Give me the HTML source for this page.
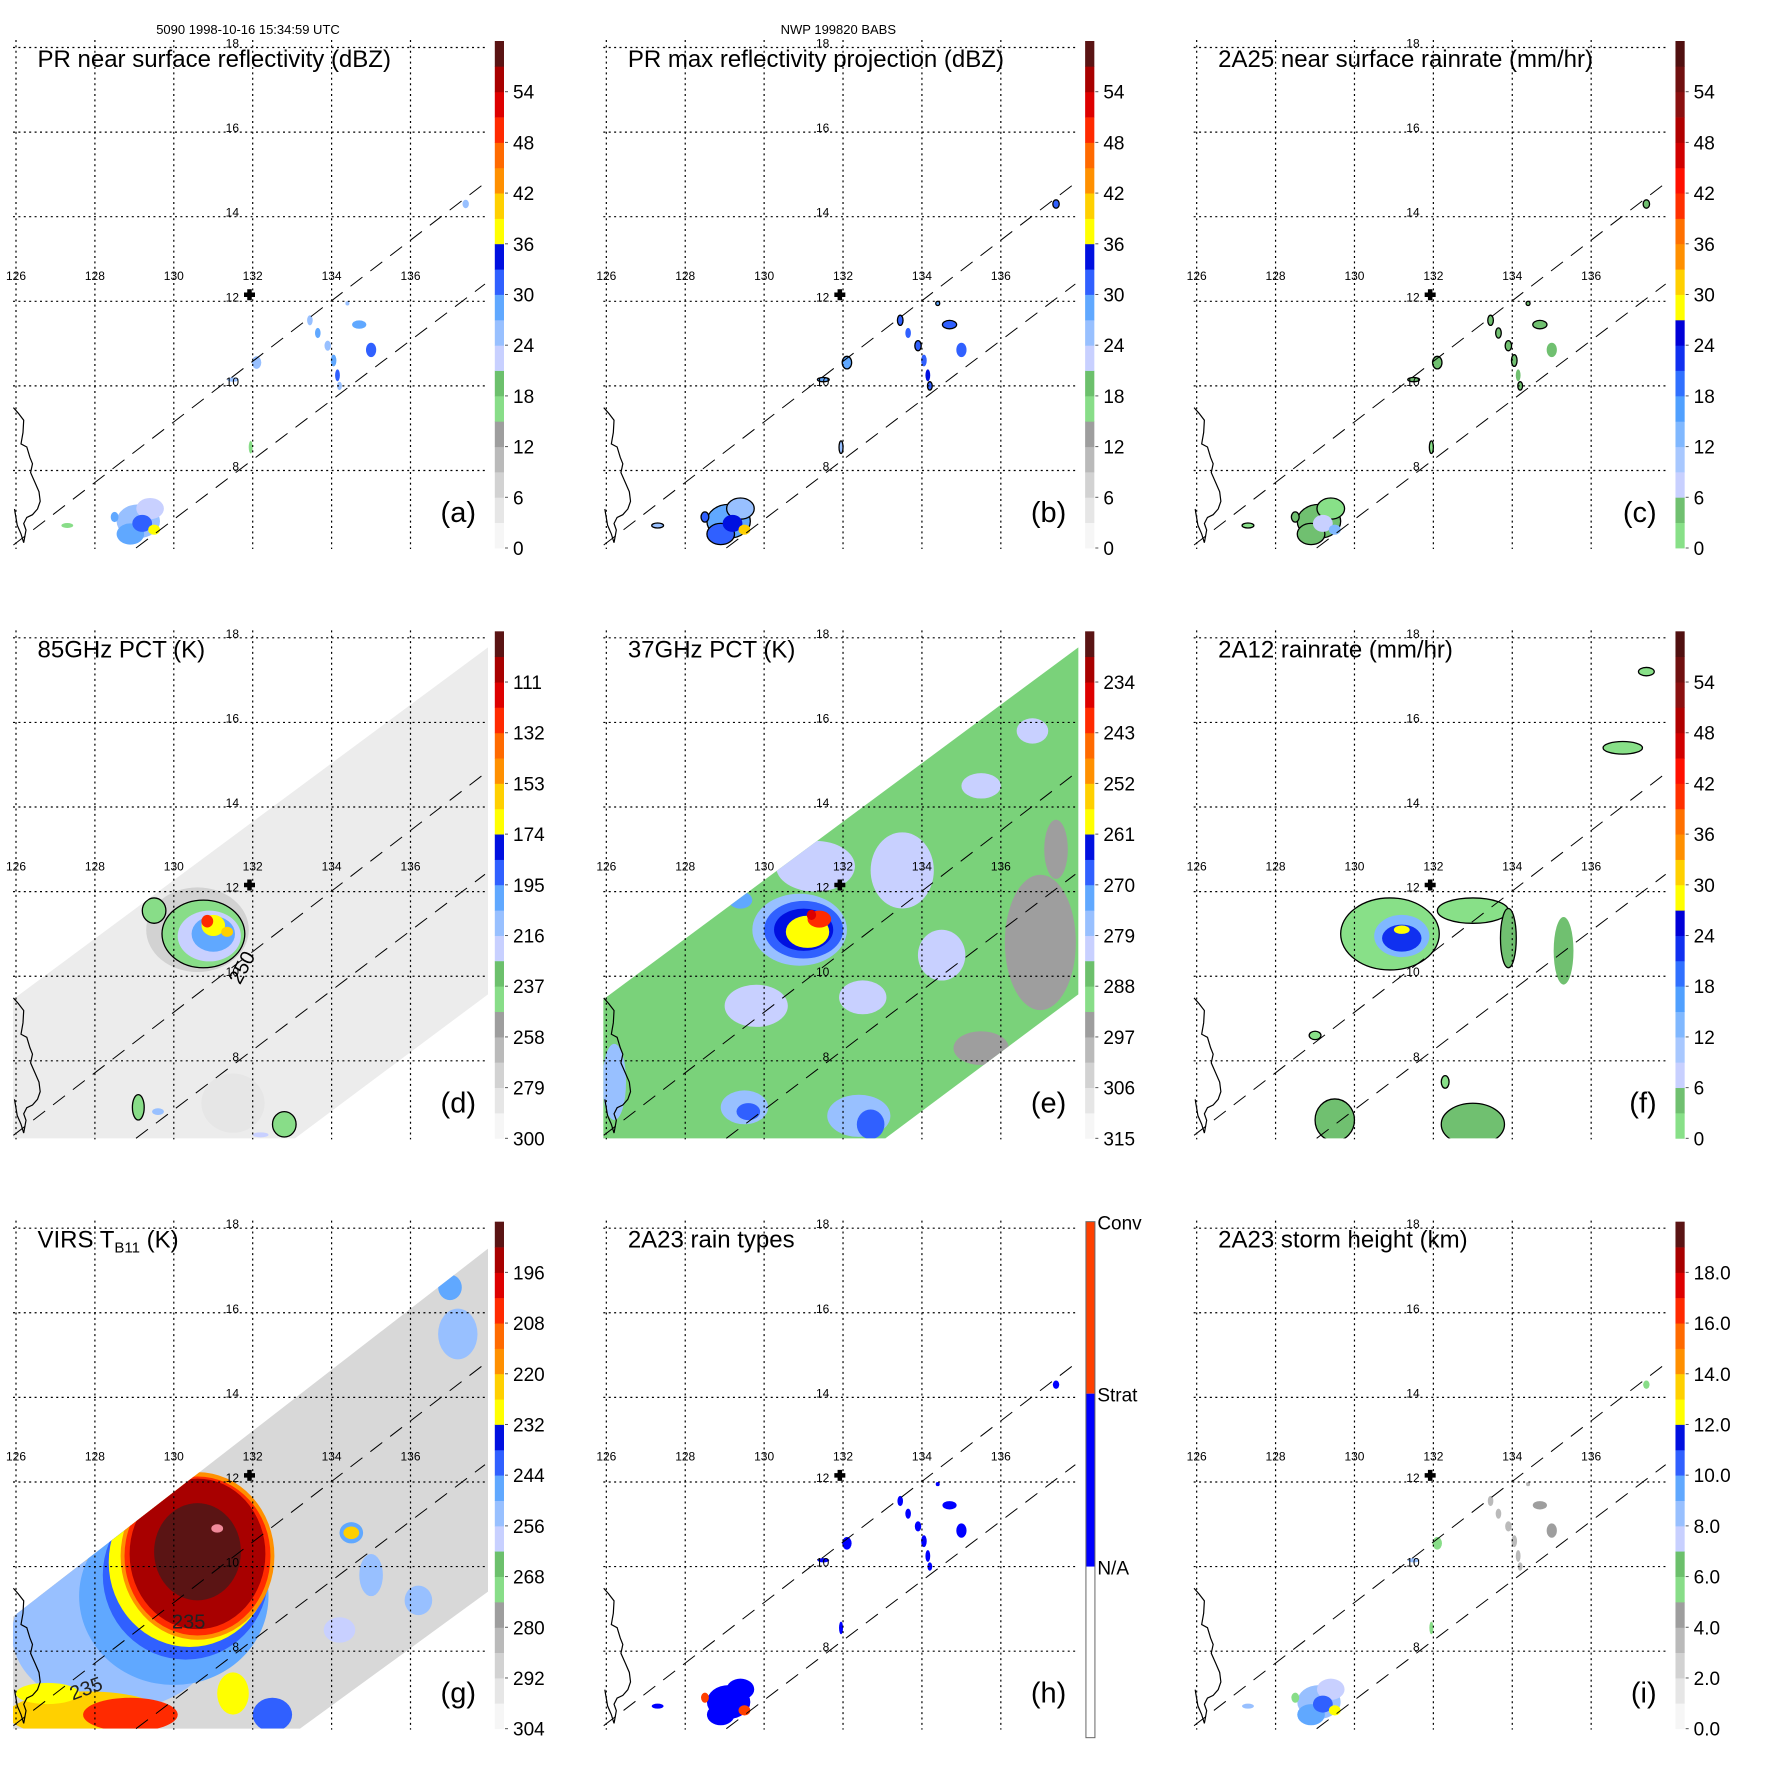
<!DOCTYPE html>
<html>
<head>
<meta charset="utf-8">
<style>
  html,body{margin:0;padding:0;background:#fff;}
  svg{display:block;font-family:"Liberation Sans",Arial,sans-serif;}
</style>
</head>
<body>
<svg id="fig" xmlns="http://www.w3.org/2000/svg" width="1771" height="1771" viewBox="0 0 1771 1771">
  <rect x="0" y="0" width="1771" height="1771" fill="#ffffff"/>
</svg>
<script>
// ---------------- DATA ----------------
const prLon = [129.1,129.4,128.9,129.2,129.5,128.5,127.3,133.45,133.65,133.9,134.05,134.15,134.2,134.7,135.0,132.1,131.5,134.4,137.4,131.95];
const prLat = [6.8,7.1,6.5,6.75,6.6,6.9,6.7,11.55,11.25,10.95,10.6,10.25,10.0,11.45,10.85,10.55,10.15,11.95,14.3,8.55];
const prRx  = [0.55,0.35,0.35,0.25,0.15,0.1,0.15,0.07,0.07,0.08,0.07,0.06,0.06,0.18,0.13,0.12,0.15,0.05,0.08,0.05];
const prRy  = [0.4,0.25,0.25,0.2,0.12,0.12,0.06,0.12,0.12,0.12,0.14,0.14,0.1,0.1,0.17,0.15,0.05,0.05,0.1,0.15];
const aVal = [24,22,27,32,38,28,17,26,28,26,28,30,26,28,30,24,25,26,26,17];
const bVal = [27,25,30,35,40,30,26,30,32,30,32,33,30,30,31,28,27,28,30,26];
const cVal = [3,2,4,8,12,4,2,3,4,3,4,5,3,4,5,3,3,3,3,2];
const hVal = [1,1,1,1,2,2,1,1,1,1,1,1,1,1,1,1,1,1,1,1];
const iVal = [8,7,9,10.5,12,5,8,3,3,3,3,3,3,4,4,5,8,3,5,5];

const dLon = [130.6,131.5,130.75,129.5,130.9,131.0,131.0,130.85,131.35,129.1,129.6,132.8,132.2];
const dLat = [11.1,7.0,11.0,11.55,10.95,11.0,11.2,11.3,11.05,6.9,6.8,6.5,6.25];
const dRx  = [1.3,0.8,1.05,0.3,0.8,0.55,0.3,0.15,0.15,0.15,0.15,0.3,0.2];
const dRy  = [1.0,0.7,0.8,0.3,0.6,0.42,0.25,0.15,0.12,0.3,0.08,0.3,0.06];
const dVal = [272,286,240,240,222,205,165,125,160,240,215,240,220];

const eLon = [131.3,133.5,129.8,136.8,135.5,137.0,135.5,137.4,126.2,129.5,129.6,132.4,132.7,129.4,130.9,131.0,131.0,131.1,131.4,131.2,134.5,132.5];
const eLat = [12.6,12.5,9.3,15.8,14.5,10.8,8.3,13.0,7.5,6.9,6.8,6.7,6.5,11.8,11.1,11.1,11.1,11.05,11.35,11.45,10.5,9.5];
const eRx  = [1.0,0.8,0.8,0.4,0.5,0.9,0.7,0.3,0.3,0.6,0.3,0.8,0.35,0.3,1.2,1.0,0.75,0.55,0.3,0.12,0.6,0.6];
const eRy  = [0.6,0.9,0.5,0.3,0.3,1.6,0.4,0.7,0.9,0.4,0.2,0.5,0.35,0.2,0.85,0.68,0.5,0.38,0.2,0.12,0.6,0.4];
const eVal = [282,282,282,282,282,295,295,295,276,278,268,278,266,272,278,268,262,258,243,236,282,282];

const fLon = [130.9,133.0,133.9,135.3,129.5,133.0,132.3,129.0,136.8,137.4,131.2,131.2,131.2];
const fLat = [11.0,11.55,10.9,10.6,6.6,6.5,7.5,8.6,15.4,17.2,10.95,10.9,11.1];
const fRx  = [1.25,0.9,0.2,0.25,0.5,0.8,0.1,0.15,0.5,0.2,0.7,0.5,0.2];
const fRy  = [0.85,0.3,0.7,0.8,0.5,0.5,0.15,0.1,0.15,0.1,0.5,0.32,0.1];
const fVal = [2,2,3,5,3,3,2,2,2,2,12,22,29];

const gLon = [127.5,128.5,130.0,130.3,130.4,130.6,130.6,130.6,130.6,131.1,127.8,128.9,126.8,131.5,132.5,134.5,134.5,135.0,136.2,137.2,134.2,137.0];
const gLat = [9.5,8.4,9.3,9.8,10.1,10.25,10.25,10.3,10.35,10.9,6.5,6.5,7.0,7.0,6.5,10.8,10.8,9.8,9.2,15.5,8.5,16.6];
const gRx  = [1.0,2.6,2.4,2.1,2.05,1.95,1.85,1.72,1.1,0.15,2.0,1.2,0.8,0.4,0.5,0.3,0.2,0.3,0.35,0.5,0.4,0.3];
const gRy  = [0.8,1.8,2.1,2.0,2.0,1.98,1.88,1.78,1.15,0.1,0.55,0.4,0.25,0.5,0.4,0.25,0.15,0.5,0.35,0.6,0.3,0.3];
const gVal = [285,254,246,240,228,218,206,196,190,170,222,205,228,230,240,250,225,255,255,255,260,250];

const aTicks = ['54','48','42','36','30','24','18','12','6','0'];
const cTicks = ['54','48','42','36','30','24','18','12','6','0'];
const dTicks = ['111','132','153','174','195','216','237','258','279','300'];
const eTicks = ['234','243','252','261','270','279','288','297','306','315'];
const gTicks = ['196','208','220','232','244','256','268','280','292','304'];
const iTicks = ['18.0','16.0','14.0','12.0','10.0','8.0','6.0','4.0','2.0','0.0'];
const hCats  = ['Conv','Strat','N/A'];
const lonTicks = [126,128,130,132,134,136];
const latTicks = [18,16,14,12,10,8];

// ---------------- STYLE / AXES ----------------
const reflPal = ['#f6f6f6','#e6e6e6','#d2d2d2','#bababa','#9e9e9e','#88dd88','#6cc06c','#c8d0ff','#98c0ff','#60a8ff','#3060ff','#0010e0','#ffff00','#ffd000','#ff9000','#ff6a00','#ff2a00','#dd0000','#a80000','#5a1414'];
const rainPal = ['#88e088','#70c070','#c8d0ff','#a8c8ff','#80b8ff','#50a0ff','#3070ff','#1030f0','#0000d8','#ffff00','#ffd000','#ff9000','#ff7000','#ff3000','#ff1000','#d00000','#b00000','#8a1010','#701010','#501010'];
function palColor(pal, s){
  if (s > 60) return '#f08a9a';
  let i = Math.floor(s/3); if (i<0) i=0; if (i>19) i=19;
  return pal[i];
}
const xOf = lon => 16 + (lon-126)*39.45;
const yOf = lat => 47.5 + (18-lat)*42.3;
const cbY = s => 548 - s*8.45;
const P = 1771/3;
const NS = 'http://www.w3.org/2000/svg';
const svg = document.getElementById('fig');
function mk(tag, attrs, parent){
  const el = document.createElementNS(NS, tag);
  for (const k in attrs) el.setAttribute(k, attrs[k]);
  parent.appendChild(el);
  return el;
}
const coastZ = [[35,1065],[48,1080],[62,1098],[60,1130],[55,1160],[70,1168],[78,1195],[85,1212],[80,1235],[92,1262],[102,1285],[105,1310],[98,1330],[85,1345],[70,1352],[62,1368],[68,1385],[62,1418],[55,1395],[45,1372],[38,1330]];
const tmiSwath = '13,409 488,57 488,404 295,548 13,548';
const virsSwath = '13,436 488,68 488,411 300,548 13,548';

const panels = [
 {id:'a',col:0,row:0,title:'PR near surface reflectivity (dBZ)',pal:reflPal,ticks:aTicks,lons:prLon,lats:prLat,rxs:prRx,rys:prRy,vals:aVal,sc:v=>v,outline:null,header:'5090 1998-10-16 15:34:59 UTC'},
 {id:'b',col:1,row:0,title:'PR max reflectivity projection (dBZ)',pal:reflPal,ticks:aTicks,lons:prLon,lats:prLat,rxs:prRx,rys:prRy,vals:bVal,sc:v=>v,outline:v=>v<=30,header:'NWP 199820 BABS'},
 {id:'c',col:2,row:0,title:'2A25 near surface rainrate (mm/hr)',pal:rainPal,ticks:cTicks,lons:prLon,lats:prLat,rxs:prRx,rys:prRy,vals:cVal,sc:v=>v,outline:v=>v<=4},
 {id:'d',col:0,row:1,title:'85GHz PCT (K)',pal:reflPal,ticks:dTicks,lons:dLon,lats:dLat,rxs:dRx,rys:dRy,vals:dVal,sc:v=>(300-v)/3.5,outline:v=>v>=235&&v<=245,swath:tmiSwath,swathFill:'#ececec'},
 {id:'e',col:1,row:1,title:'37GHz PCT (K)',pal:reflPal,ticks:eTicks,lons:eLon,lats:eLat,rxs:eRx,rys:eRy,vals:eVal,sc:v=>(315-v)/1.5,outline:null,swath:tmiSwath,swathFill:'#7ad27a'},
 {id:'f',col:2,row:1,title:'2A12 rainrate (mm/hr)',pal:rainPal,ticks:cTicks,lons:fLon,lats:fLat,rxs:fRx,rys:fRy,vals:fVal,sc:v=>v,outline:v=>v<=3},
 {id:'g',col:0,row:2,title:'VIRS',pal:reflPal,ticks:gTicks,lons:gLon,lats:gLat,rxs:gRx,rys:gRy,vals:gVal,sc:v=>(304-v)/2,outline:null,swath:virsSwath,swathFill:'#d8d8d8'},
 {id:'h',col:1,row:2,title:'2A23 rain types',pal:null,ticks:null,lons:prLon,lats:prLat,rxs:prRx,rys:prRy,vals:hVal,sc:v=>v,outline:null},
 {id:'i',col:2,row:2,title:'2A23 storm height (km)',pal:reflPal,ticks:iTicks,lons:prLon,lats:prLat,rxs:prRx,rys:prRy,vals:iVal,sc:v=>v*3,outline:null}
];

const defs = mk('defs', {}, svg);
panels.forEach(p => {
  const cp = mk('clipPath', {id:'clip-'+p.id}, defs);
  if (p.swath) mk('polygon', {points:p.swath}, cp);
  else mk('rect', {x:13,y:40,width:475,height:508}, cp);
});

panels.forEach(p => {
  const g = mk('g', {transform:'translate('+(p.col*P).toFixed(2)+','+(p.row*P).toFixed(2)+')'}, svg);
  
  

  if (p.swath){
    const sw = mk('polygon', {points:p.swath, fill:p.swathFill}, g);
    
    
  }
  const dg = mk('g', {'clip-path':'url(#clip-'+p.id+')'}, g);
  
  
  for (let k=0;k<p.vals.length;k++){
    let fill;
    if (p.id==='h') fill = p.vals[k]===2 ? '#ff4000' : '#0000ff';
    else fill = palColor(p.pal, p.sc(p.vals[k]));
    const at = {cx:xOf(p.lons[k]).toFixed(1), cy:yOf(p.lats[k]).toFixed(1), rx:(p.rxs[k]*39.45).toFixed(1), ry:(p.rys[k]*42.3).toFixed(1), fill:fill};
    if (p.outline && p.outline(p.vals[k])){ at.stroke='#000'; at['stroke-width']='1.3'; }
    const el = mk('ellipse', at, dg);
    
    
  }

  const gg = mk('g', {stroke:'#000','stroke-width':'1.2','stroke-dasharray':'2 3.4',fill:'none'}, g);
  
  
  lonTicks.forEach(lon => {
    const l = mk('line', {x1:xOf(lon), y1:40, x2:xOf(lon), y2:549}, gg);
    
    
  });
  latTicks.forEach(lat => {
    const l = mk('line', {x1:13, y1:yOf(lat), x2:488, y2:yOf(lat)}, gg);
    
    
  });
  const dl = mk('g', {stroke:'#000','stroke-width':'1','stroke-dasharray':'15 10',fill:'none'}, g);
  
  
  const l1 = mk('line', {x1:13.4,y1:545,x2:485,y2:183}, dl);
  
  
  const l2 = mk('line', {x1:136,y1:548,x2:485,y2:284}, dl);
  
  
  const cpts = coastZ.map(q => (q[0]*0.3827).toFixed(1)+','+(q[1]*0.3827).toFixed(1)).join(' ');
  const co = mk('polyline', {points:cpts, fill:'none', stroke:'#000','stroke-width':'1.2'}, g);
  
  

  lonTicks.forEach(lon => {
    const t = mk('text', {x:xOf(lon), y:280, 'font-size':'12', 'text-anchor':'middle', fill:'#000'}, g);
    t.textContent = String(lon);
    
    
  });
  latTicks.forEach(lat => {
    const t = mk('text', {x:239, y:yOf(lat), 'font-size':'12', 'text-anchor':'end', fill:'#000'}, g);
    t.textContent = String(lat);
    
    
  });
  const pl = mk('path', {d:'M244,294.7 h11 M249.5,289.2 v11', stroke:'#000','stroke-width':'4.5',fill:'none'}, g);
  
  

  if (p.id==='d'){
    const t = mk('text', {x:0,y:0,'font-size':'20',fill:'#000',transform:'translate(240,395) rotate(-62)'}, g);
    t.textContent = '250';
    
    
  }
  if (p.id==='g'){
    const t = mk('text', {x:172,y:448,'font-size':'20',fill:'#222'}, g);
    t.textContent = '235';
    
    
    const t2 = mk('text', {x:70,y:515,'font-size':'20',fill:'#222',transform:'rotate(-20 85 510)'}, g);
    t2.textContent = '235';
    
    
  }

  if (p.header){
    const t = mk('text', {x:248, y:34, 'font-size':'13', 'text-anchor':'middle', fill:'#000'}, g);
    t.textContent = p.header;
    
    
  }
  const tt = mk('text', {x:37.5, y:67, 'font-size':'24', fill:'#000'}, g);
  
  
  if (p.id==='g'){
    const s1 = mk('tspan', {}, tt); s1.textContent = 'VIRS T';
    const s2 = mk('tspan', {'font-size':'15', dy:'5'}, tt); s2.textContent = 'B11';
    const s3 = mk('tspan', {dy:'-5'}, tt); s3.textContent = ' (K)';
  } else {
    tt.textContent = p.title;
  }
  const pt = mk('text', {x:476, y:522, 'font-size':'29', 'text-anchor':'end', fill:'#000'}, g);
  pt.textContent = '('+p.id+')';
  
  

  const cb = mk('g', {}, g);
  
  
  if (p.id==='h'){
    const segs = [['#ff4000',41,213],['#0000ff',213,386],['#ffffff',386,557]];
    segs.forEach((s,k) => {
      const r = mk('rect', {x:495.6, y:s[1], width:9, height:s[2]-s[1], fill:s[0]}, cb);
      
      
    });
    const fr = mk('rect', {x:495.6, y:41, width:9, height:516, fill:'none', stroke:'#666','stroke-width':'1'}, cb);
    
    
    [41,213,386].forEach((y,k) => {
      const t = mk('text', {x:507, y:y+8, 'font-size':'19', fill:'#000'}, cb);
      t.textContent = hCats[k];
      
      
    });
  } else {
    for (let k=0;k<20;k++){
      const y0 = cbY(3*(k+1)), y1 = cbY(3*k);
      const r = mk('rect', {x:494.8, y:y0.toFixed(1), width:9.2, height:(y1-y0+0.4).toFixed(1), fill:p.pal[k]}, cb);
      
      
    }
    p.ticks.forEach((lab,k) => {
      const y = cbY(54-6*k);
      const tk = mk('line', {x1:505, y1:y, x2:508, y2:y, stroke:'#555','stroke-width':'1'}, cb);
      
      
      const t = mk('text', {x:513, y:y+7, 'font-size':'19', fill:'#000'}, cb);
      t.textContent = lab;
      
      
    });
  }
});
</script>
</body>
</html>
